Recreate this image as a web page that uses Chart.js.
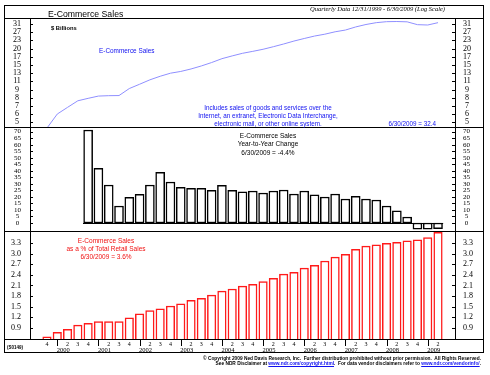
<!DOCTYPE html>
<html>
<head>
<meta charset="utf-8">
<title>E-Commerce Sales</title>
<script src="https://cdn.jsdelivr.net/npm/chart.js@4.4.1/dist/chart.umd.min.js"></script>
<style>
    html, body { margin: 0; padding: 0; background: #fff; }
    body { position: relative; width: 490px; height: 375px; overflow: hidden; font-family: "Liberation Sans", Arial, sans-serif; color: #000; }
    canvas { position: absolute; left: 4px; }
    .t { position: absolute; white-space: nowrap; line-height: 1; z-index: 3; }
    .rule { position: absolute; left: 4px; width: 480px; height: 1px; background: #000; z-index: 2; }
    .frame { position: absolute; left: 4px; top: 5px; width: 478px; height: 346px; border: 1px solid #000; z-index: 2; }
    .blue { color: #1010f0; }
    .red { color: #f01010; }
    .ctr { text-align: center; transform: translateX(-50%); }
    .serif { font-family: "Liberation Serif", "Times New Roman", serif; }
</style>
</head>
<body>

<div class="frame"></div>
<div class="rule" style="top:18px"></div>
<div class="rule" style="top:127px"></div>
<div class="rule" style="top:231px"></div>
<div class="rule" style="top:339px"></div>

<canvas id="cTop" width="480" height="108" style="top:19px"></canvas>
<canvas id="cMid" width="480" height="103" style="top:128px"></canvas>
<canvas id="cBot" width="480" height="120" style="top:232px"></canvas>

<!-- title bar -->
<div class="t" style="left:48px; top:9.7px; font-size:8.7px">E-Commerce Sales</div>
<div class="t serif" style="right:45px; top:6px; font-size:6.5px; font-style:italic">Quarterly Data 12/31/1999 - 6/30/2009 (Log Scale)</div>

<!-- top panel notes -->
<div class="t" style="left:51px; top:26.2px; font-size:5.8px; font-weight:bold">$ Billions</div>
<div class="t blue" style="left:99px; top:48px; font-size:6.4px">E-Commerce Sales</div>
<div class="t blue ctr" style="left:268px; top:103.6px; font-size:6.3px; line-height:8px">Includes sales of goods and services over the<br>Internet, an extranet, Electronic Data Interchange,<br>electronic mail, or other online system.</div>
<div class="t blue" style="right:54px; top:120.9px; font-size:6.3px">6/30/2009 = 32.4</div>

<!-- middle panel notes -->
<div class="t ctr" style="left:268px; top:131.7px; font-size:6.5px; line-height:8.6px">E-Commerce Sales<br>Year-to-Year Change<br>6/30/2009 = -4.4%</div>

<!-- bottom panel notes -->
<div class="t red ctr" style="left:106px; top:236.9px; font-size:6.5px; line-height:8.2px">E-Commerce Sales<br>as a % of Total Retail Sales<br>6/30/2009 = 3.6%</div>

<div class="t" style="left:7px; top:346px; font-size:4.5px; font-weight:bold">(S0149)</div>

<div class="t" style="right:9px; top:355.5px; font-size:4.8px; font-weight:bold; text-align:right; line-height:5.6px; white-space:pre">© Copyright 2009 Ned Davis Research, Inc.  Further distribution prohibited without prior permission.  All Rights Reserved.<br>See NDR Disclaimer at <u class="blue">www.ndr.com/copyright.html</u>.  For data vendor disclaimers refer to <u class="blue">www.ndr.com/vendorinfo/</u>.</div>

<script>
// ── Data ─────────────────────────────────────────────────────
const QUARTERS = [
    "1999 Q4",
    "2000 Q1", "2000 Q2", "2000 Q3", "2000 Q4",
    "2001 Q1", "2001 Q2", "2001 Q3", "2001 Q4",
    "2002 Q1", "2002 Q2", "2002 Q3", "2002 Q4",
    "2003 Q1", "2003 Q2", "2003 Q3", "2003 Q4",
    "2004 Q1", "2004 Q2", "2004 Q3", "2004 Q4",
    "2005 Q1", "2005 Q2", "2005 Q3", "2005 Q4",
    "2006 Q1", "2006 Q2", "2006 Q3", "2006 Q4",
    "2007 Q1", "2007 Q2", "2007 Q3", "2007 Q4",
    "2008 Q1", "2008 Q2", "2008 Q3", "2008 Q4",
    "2009 Q1", "2009 Q2"
];
const YEARS = ["2000", "2001", "2002", "2003", "2004", "2005", "2006", "2007", "2008", "2009"];

// E-Commerce sales, $ billions (log scale)
const SALES = [
    4.49, 5.84, 6.62, 7.49, 7.84, 8.18, 8.24, 8.26, 9.42, 10.21,
    11.09, 11.86, 12.56, 12.98, 13.6, 14.39, 15.34, 16.49, 17.37, 18.24,
    18.92, 19.67, 20.64, 21.72, 22.95, 24.08, 25.2, 26.1, 27.3, 28.2,
    29.9, 31.3, 32.4, 33.0, 33.1, 32.9, 31.2, 31.0, 32.4
];

// Year-to-year change, %
const YOY_CHANGE = [
    null, null, null, null, 71.3, 41.9, 29.1, 13.0, 19.7, 22.0,
    29.1, 38.8, 31.4, 27.4, 26.6, 26.6, 25.0, 28.9, 25.0, 23.8,
    24.5, 23.0, 24.5, 25.3, 22.2, 24.5, 21.5, 19.9, 22.2, 18.4,
    20.4, 18.4, 17.6, 13.0, 9.4, 4.6, -4.8, -4.8, -4.4
];

// E-Commerce as % of total retail sales
const PCT_OF_RETAIL = [
    0.65, 0.78, 0.86, 0.98, 1.03, 1.08, 1.08, 1.08, 1.19, 1.30,
    1.39, 1.44, 1.52, 1.58, 1.68, 1.74, 1.83, 1.94, 2.0, 2.08,
    2.13, 2.21, 2.30, 2.42, 2.47, 2.59, 2.67, 2.79, 2.90, 2.98,
    3.12, 3.21, 3.25, 3.29, 3.32, 3.36, 3.39, 3.45, 3.6
];

// Tick marks
const SALES_TICKS = [5, 5.83, 6.8, 7.93, 9.25, 10.78, 12.57, 14.66, 17.1, 19.9, 23.3, 27.1, 31.6];
const SALES_TICK_LABELS = ["5", "6", "7", "8", "9", "11", "13", "15", "17", "20", "23", "27", "31"];
const YOY_TICKS = [0, 5, 10, 15, 20, 25, 30, 35, 40, 45, 50, 55, 60, 65, 70];
const PCT_TICKS = [0.9, 1.2, 1.5, 1.8, 2.1, 2.4, 2.7, 3.0, 3.3];

// ── Shared bits ──────────────────────────────────────────────
const X_MIN = -1.65, X_MAX = 39.65;
const SERIF = '"Liberation Serif", "Times New Roman", serif';
const pts = arr => arr.map((v, i) => ({ x: i, y: v }));

const hiddenX = { type: "linear", display: false, min: X_MIN, max: X_MAX, offset: false };

const valueAxis = (pos, cfg) => ({
    type: cfg.type || "linear",
    position: pos,
    min: cfg.min,
    max: cfg.max,
    bounds: "data",
    beginAtZero: false,
    grid: { display: false, drawTicks: false },
    border: { display: true, color: "#000", width: 1 },
    ticks: {
        autoSkip: false,
        crossAlign: "center",
        padding: pos === "left" ? 9 : 8,
        color: "#000",
        font: { family: SERIF, size: cfg.fontSize },
        callback: (v, i) => cfg.labels[i]
    },
    afterBuildTicks: ax => { ax.ticks = cfg.ticks.map(v => ({ value: v })); },
    afterFit: ax => {
        ax.width = pos === "left" ? 26 : 29;
        ax.paddingTop = 0;
        ax.paddingBottom = 0;
    }
});

const bothAxes = cfg => ({ y: valueAxis("left", cfg), yR: valueAxis("right", cfg) });

// inward tick marks, histogram zero line, year dividers
const axisMarks = {
    id: "axisMarks",
    afterDraw(chart, args, opts) {
        const { ctx, chartArea: a, scales } = chart;
        ctx.save();
        ctx.strokeStyle = "#000";
        ctx.lineWidth = 1;
        const seg = (x0, y0, x1, y1) => { ctx.beginPath(); ctx.moveTo(x0, y0); ctx.lineTo(x1, y1); ctx.stroke(); };

        ["y", "yR"].forEach(id => {
            const s = scales[id];
            s.ticks.forEach(t => {
                const y = Math.round(s.getPixelForValue(t.value)) + 0.5;
                if (id === "y") seg(a.left, y, a.left + 3, y);
                else seg(a.right - 3, y, a.right, y);
            });
        });

        if (opts && opts.zeroFrom != null) {
            const y = Math.round(scales.y.getPixelForValue(0)) + 0.5;
            seg(scales.x.getPixelForValue(opts.zeroFrom), y, scales.x.getPixelForValue(opts.zeroTo), y);
        }

        if (scales.xq) {
            QUARTERS.forEach((q, i) => {
                if (!q.endsWith("Q1")) return;
                const x = Math.round(scales.xq.getPixelForValue(i)) + 0.5;
                seg(x, a.bottom, x, a.bottom + 7);
            });
        }
        ctx.restore();
    }
};

const baseOptions = scales => ({
    responsive: false,
    animation: false,
    events: [],
    layout: { padding: 0 },
    plugins: { legend: { display: false }, tooltip: { enabled: false } },
    scales
});

// ── Top: E-Commerce Sales (log) ──────────────────────────────
new Chart(document.getElementById("cTop"), {
    type: "line",
    data: {
        datasets: [{
            data: pts(SALES),
            borderColor: "#8f8fff",
            borderWidth: 1,
            pointRadius: 0,
            tension: 0,
            fill: false
        }]
    },
    options: baseOptions({
        x: hiddenX,
        ...bothAxes({ type: "logarithmic", min: 4.58, max: 34.7, ticks: SALES_TICKS, labels: SALES_TICK_LABELS, fontSize: 8 })
    }),
    plugins: [axisMarks]
});

// ── Middle: Year-to-Year Change ──────────────────────────────
const midOpts = baseOptions({
    x: hiddenX,
    ...bothAxes({ min: -6.13, max: 72.8, ticks: YOY_TICKS, labels: YOY_TICKS.map(String), fontSize: 7 })
});
midOpts.plugins.axisMarks = { zeroFrom: 3.5, zeroTo: 38.5 };

new Chart(document.getElementById("cMid"), {
    type: "bar",
    data: {
        datasets: [{
            data: pts(YOY_CHANGE),
            backgroundColor: "#fff",
            borderColor: "#000",
            borderWidth: 1.5,
            borderSkipped: false,
            barThickness: 9
        }]
    },
    options: midOpts,
    plugins: [axisMarks]
});

// ── Bottom: % of Total Retail Sales ──────────────────────────
const yearTicks = YEARS.map(y => QUARTERS.indexOf(y + " Q1") + 0.58);

new Chart(document.getElementById("cBot"), {
    type: "bar",
    data: {
        datasets: [{
            data: pts(PCT_OF_RETAIL),
            xAxisID: "xq",
            backgroundColor: "#fff",
            borderColor: "#ff1a1a",
            borderWidth: 1.5,
            borderSkipped: false,
            barThickness: 8.5
        }]
    },
    options: baseOptions({
        xq: {
            type: "linear", position: "bottom", weight: 0,
            min: X_MIN, max: X_MAX, offset: false, bounds: "data",
            grid: { display: false, drawTicks: false },
            border: { display: false },
            ticks: {
                autoSkip: false, maxRotation: 0, minRotation: 0, padding: 2,
                color: "#000", font: { family: SERIF, size: 6 },
                callback: (v, i) => { const q = QUARTERS[i].slice(-1); return q === "1" ? "" : q; }
            },
            afterBuildTicks: ax => { ax.ticks = QUARTERS.map((q, i) => ({ value: i })); },
            afterFit: ax => { ax.height = 7; ax.paddingLeft = 0; ax.paddingRight = 0; }
        },
        xy: {
            type: "linear", position: "bottom", weight: 1,
            min: X_MIN, max: X_MAX, offset: false, bounds: "data",
            grid: { display: false, drawTicks: false },
            border: { display: false },
            ticks: {
                autoSkip: false, maxRotation: 0, minRotation: 0, padding: 0,
                color: "#000", font: { family: SERIF, size: 6.5 },
                callback: (v, i) => YEARS[i]
            },
            afterBuildTicks: ax => { ax.ticks = yearTicks.map(v => ({ value: v })); },
            afterFit: ax => { ax.height = 6; ax.paddingLeft = 0; ax.paddingRight = 0; }
        },
        ...bothAxes({ min: 0.589, max: 3.61, ticks: PCT_TICKS, labels: PCT_TICKS.map(v => v.toFixed(1)), fontSize: 8 })
    }),
    plugins: [axisMarks]
});
</script>
</body>
</html>
